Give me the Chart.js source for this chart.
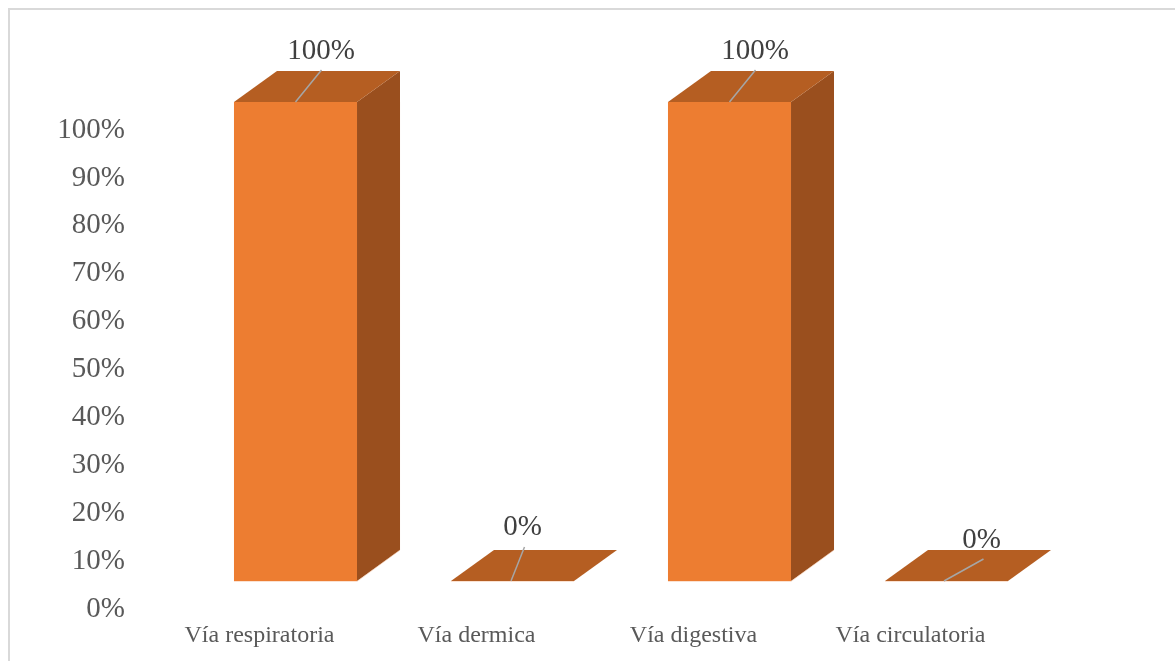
<!DOCTYPE html>
<html>
<head>
<meta charset="utf-8">
<script src="https://cdn.jsdelivr.net/npm/chart.js@4/dist/chart.umd.min.js"></script>
<style>
  html, body { margin: 0; padding: 0; background: #ffffff; overflow: hidden; }
  #wrap { position: absolute; left: 0; top: 0; width: 1175px; height: 661px; }
</style>
</head>
<body>
<div id="wrap"><canvas id="c" width="1175" height="661"></canvas></div>
<script>
// ---- data ----
const categories = ["Vía respiratoria", "Vía dermica", "Vía digestiva", "Vía circulatoria"];
const values = [100, 0, 100, 0];
const dataLabels = ["100%", "0%", "100%", "0%"];
const yTickValues = [0, 10, 20, 30, 40, 50, 60, 70, 80, 90, 100];

// ---- styles (not data) ----
const FRONT = "#ED7D31";
const TOP = "#B55E22";
const SIDE = "#9A4F1E";
const DEPTH_X = 43, DEPTH_Y = -31;
// data label placement relative to the bar's front-top centre: [textDx, baselineDy, lineStartDx, lineEndDx, lineEndDy]
const labelPlacement = [
  [25.5, -43, 0, 26, -32],
  [10, -46, -1.5, 12, -34],
  [25.5, -43, 0, 26, -32],
  [35, -33, -2.5, 37, -22]
];

const threeD = {
  id: "threeD",
  beforeDraw(chart) {
    const ctx = chart.ctx;
    ctx.save();
    ctx.fillStyle = "#ffffff";
    ctx.fillRect(0, 0, chart.width, chart.height);
    ctx.fillStyle = "#D9D9D9";
    ctx.fillRect(8, 8, chart.width - 8, 2);
    ctx.fillRect(8, 8, 2, chart.height - 8);
    ctx.restore();
  },
  afterDatasetsDraw(chart) {
    const ctx = chart.ctx;
    const meta = chart.getDatasetMeta(0);
    ctx.save();
    meta.data.forEach((bar, i) => {
      const p = bar.getProps(["x", "y", "base", "width"], true);
      const l = p.x - p.width / 2, r = p.x + p.width / 2;
      const top = Math.min(p.y, p.base), bot = Math.max(p.y, p.base);
      // side face
      if (bot - top > 0.5) {
        ctx.fillStyle = SIDE;
        ctx.beginPath();
        ctx.moveTo(r, top);
        ctx.lineTo(r + DEPTH_X, top + DEPTH_Y);
        ctx.lineTo(r + DEPTH_X, bot + DEPTH_Y);
        ctx.lineTo(r, bot);
        ctx.closePath();
        ctx.fill();
      }
      // top face
      ctx.fillStyle = TOP;
      ctx.beginPath();
      ctx.moveTo(l, top);
      ctx.lineTo(l + DEPTH_X, top + DEPTH_Y);
      ctx.lineTo(r + DEPTH_X, top + DEPTH_Y);
      ctx.lineTo(r, top);
      ctx.closePath();
      ctx.fill();
      // light edge highlights
      ctx.strokeStyle = "rgba(248,203,173,0.55)";
      ctx.lineWidth = 1;
      ctx.beginPath();
      ctx.moveTo(l, bot + 0.5);
      ctx.lineTo(r, bot + 0.5);
      if (bot - top > 0.5) ctx.lineTo(r + DEPTH_X, bot + DEPTH_Y);
      ctx.stroke();
      // data labels with leader lines
      const pl = labelPlacement[i];
      ctx.strokeStyle = "#A6A6A6";
      ctx.lineWidth = 1.5;
      ctx.beginPath();
      ctx.moveTo(p.x + pl[2], top);
      ctx.lineTo(p.x + pl[3], top + pl[4]);
      ctx.stroke();
      ctx.fillStyle = "#404040";
      ctx.font = "29px 'Liberation Serif'";
      ctx.textAlign = "center";
      ctx.textBaseline = "alphabetic";
      ctx.fillText(dataLabels[i], p.x + pl[0], top + pl[1]);
    });
    ctx.restore();
  }
};

new Chart(document.getElementById("c"), {
  type: "bar",
  data: {
    labels: categories,
    datasets: [{
      data: values,
      backgroundColor: FRONT,
      borderWidth: 0,
      barPercentage: 0.567,
      categoryPercentage: 1.0
    }]
  },
  options: {
    responsive: false,
    animation: false,
    devicePixelRatio: 1,
    layout: { padding: { top: 102, right: 120, left: 0, bottom: 0 } },
    plugins: { legend: { display: false }, tooltip: { enabled: false }, title: { display: false } },
    scales: {
      x: {
        grid: { display: false, drawTicks: false },
        border: { display: false },
        ticks: {
          color: "#595959",
          font: { family: "'Liberation Serif'", size: 24 },
          padding: 40,
          labelOffset: -36,
          maxRotation: 0,
          autoSkip: false
        },
        afterFit(s) { s.height = 80; }
      },
      y: {
        min: 0,
        max: 100,
        grid: { display: false, drawTicks: false },
        border: { display: false },
        afterBuildTicks(s) { s.ticks = yTickValues.map(v => ({ value: v })); },
        ticks: {
          color: "#595959",
          font: { family: "'Liberation Serif'", size: 29 },
          padding: 62,
          labelOffset: 28,
          autoSkip: false,
          callback: v => v + "%"
        },
        afterFit(s) { s.width = 187; }
      }
    }
  },
  plugins: [threeD]
});
</script>
</body>
</html>
